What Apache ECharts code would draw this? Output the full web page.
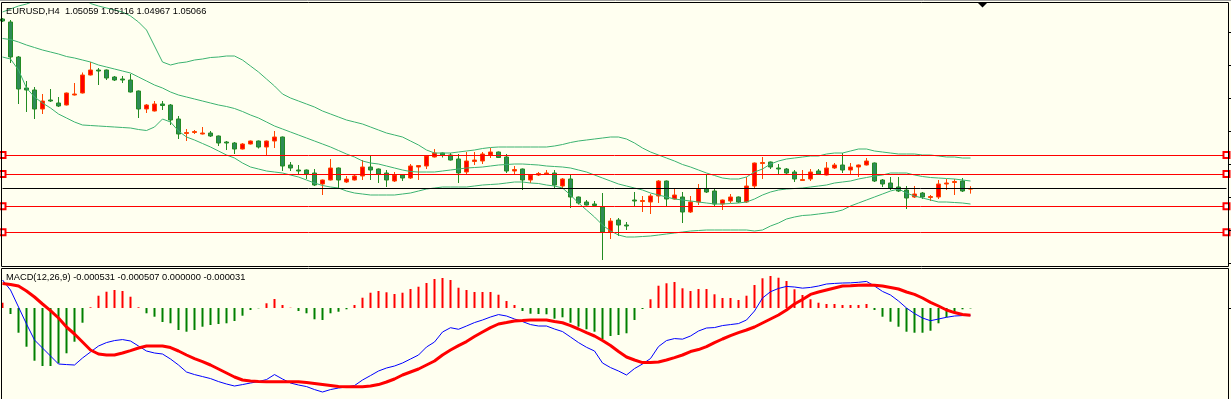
<!DOCTYPE html>
<html>
<head>
<meta charset="utf-8">
<title>EURUSD,H4</title>
<script src="https://cdn.jsdelivr.net/npm/echarts@6/dist/echarts.min.js"></script>
<style>
html, body { margin: 0; padding: 0; background: #fffff0; }
#chart { width: 1231px; height: 399px; }
</style>
</head>
<body>
<div id="chart"></div>
<script>
// H4 bars, oldest first (the first one is cut by the left edge)
const opens = [1.0846, 1.0840, 1.0770, 1.0708, 1.0704, 1.0666, 1.0684, 1.0678, 1.0674, 1.0694,
  1.0698, 1.0734, 1.0744, 1.0744, 1.0730, 1.0726, 1.0724, 1.0702, 1.0666, 1.0662,
  1.0676, 1.0674, 1.0646, 1.0617, 1.0619, 1.0616, 1.0618, 1.0612, 1.0600, 1.0598,
  1.0586, 1.0596, 1.0602, 1.0590, 1.0602, 1.0610, 1.0554, 1.0544, 1.0544, 1.0538,
  1.0516, 1.0524, 1.0548, 1.0520, 1.0524, 1.0532, 1.0550, 1.0546, 1.0538, 1.0522,
  1.0534, 1.0528, 1.0550, 1.0552, 1.0570, 1.0578, 1.0574, 1.0566, 1.0540, 1.0561,
  1.0562, 1.0574, 1.0580, 1.0570, 1.0542, 1.0546, 1.0524, 1.0534, 1.0536, 1.0538,
  1.0512, 1.0526, 1.0490, 1.0480, 1.0476, 1.0470, 1.0420, 1.0444, 1.0434, 1.0484,
  1.0481, 1.0480, 1.0492, 1.0522, 1.0486, 1.0490, 1.0460, 1.0480, 1.0506, 1.0502,
  1.0476, 1.0482, 1.0490, 1.0480, 1.0512, 1.0557, 1.0560, 1.0548, 1.0546, 1.0540,
  1.0523, 1.0526, 1.0542, 1.0534, 1.0548, 1.0554, 1.0544, 1.0550, 1.0554, 1.0558,
  1.0524, 1.0518, 1.0510, 1.0504, 1.0490, 1.0498, 1.0489, 1.0490, 1.0516, 1.0519,
  1.0522, 1.05059]
const closes = [1.0842, 1.0770, 1.0706, 1.0704, 1.0666, 1.0682, 1.0682, 1.0672, 1.0698, 1.0696,
  1.0734, 1.0744, 1.0742, 1.0728, 1.0724, 1.0724, 1.0700, 1.0666, 1.0674, 1.0676,
  1.0673, 1.0644, 1.0616, 1.0619, 1.0621, 1.0618, 1.0612, 1.0598, 1.0598, 1.0586,
  1.0596, 1.0602, 1.0590, 1.0602, 1.0610, 1.0552, 1.0548, 1.0542, 1.0536, 1.0514,
  1.0524, 1.0548, 1.0524, 1.0526, 1.0532, 1.0550, 1.0544, 1.0536, 1.0524, 1.0534,
  1.0528, 1.0552, 1.0553, 1.0572, 1.0578, 1.0574, 1.0564, 1.0538, 1.0562, 1.0564,
  1.0576, 1.0580, 1.0569, 1.0542, 1.0545, 1.0524, 1.0534, 1.0537, 1.0538, 1.0514,
  1.0526, 1.0490, 1.0478, 1.0474, 1.0473, 1.0420, 1.0442, 1.0434, 1.0432, 1.0482,
  1.0483, 1.0492, 1.0522, 1.0486, 1.0494, 1.0460, 1.0480, 1.0506, 1.0500, 1.0476,
  1.0484, 1.0490, 1.0480, 1.0512, 1.0558, 1.0559, 1.0550, 1.0546, 1.0538, 1.0526,
  1.0525, 1.0540, 1.0536, 1.0548, 1.0554, 1.0544, 1.0550, 1.0554, 1.0562, 1.0522,
  1.0516, 1.0508, 1.0502, 1.0488, 1.0496, 1.0490, 1.0491, 1.0516, 1.0518, 1.0521,
  1.0502, 1.05066]
const lows = [1.0840, 1.0758, 1.0676, 1.0660, 1.0646, 1.0656, 1.0680, 1.0670, 1.0673, 1.0693,
  1.0697, 1.0733, 1.0714, 1.0724, 1.0722, 1.0718, 1.0699, 1.0648, 1.0658, 1.0661,
  1.0664, 1.0634, 1.0606, 1.0602, 1.0616, 1.0615, 1.0610, 1.0592, 1.0584, 1.0576,
  1.0585, 1.0595, 1.0587, 1.0574, 1.0588, 1.0542, 1.0542, 1.0536, 1.0526, 1.0512,
  1.0494, 1.0523, 1.0508, 1.0518, 1.0523, 1.0524, 1.0524, 1.0518, 1.0510, 1.0520,
  1.0522, 1.0526, 1.0524, 1.0546, 1.0569, 1.0569, 1.0563, 1.0518, 1.0534, 1.0554,
  1.0556, 1.0568, 1.0568, 1.0538, 1.0534, 1.0504, 1.0518, 1.0532, 1.0534, 1.0508,
  1.0508, 1.0468, 1.0475, 1.0473, 1.0470, 1.0364, 1.0406, 1.0412, 1.0424, 1.0470,
  1.0460, 1.0456, 1.0478, 1.0472, 1.0485, 1.0438, 1.0458, 1.0474, 1.0498, 1.0470,
  1.0464, 1.0478, 1.0478, 1.0478, 1.0508, 1.0526, 1.0546, 1.0536, 1.0536, 1.0520,
  1.0522, 1.0522, 1.0534, 1.0533, 1.0546, 1.0538, 1.0536, 1.0530, 1.0553, 1.0520,
  1.0510, 1.0504, 1.0500, 1.0466, 1.0488, 1.0486, 1.0482, 1.0486, 1.0504, 1.0494,
  1.0500, 1.04967]
const highs = [1.0848, 1.0844, 1.0772, 1.0722, 1.0710, 1.0696, 1.0706, 1.0690, 1.0699, 1.0718,
  1.0739, 1.0760, 1.0748, 1.0745, 1.0732, 1.0732, 1.0736, 1.0703, 1.0676, 1.0682,
  1.0682, 1.0676, 1.0652, 1.0626, 1.0624, 1.0630, 1.0622, 1.0613, 1.0602, 1.0600,
  1.0598, 1.0603, 1.0603, 1.0603, 1.0622, 1.0611, 1.0560, 1.0554, 1.0545, 1.0546,
  1.0525, 1.0566, 1.0549, 1.0532, 1.0534, 1.0564, 1.0572, 1.0547, 1.0544, 1.0540,
  1.0535, 1.0556, 1.0554, 1.0573, 1.0586, 1.0579, 1.0578, 1.0576, 1.0580, 1.0580,
  1.0580, 1.0588, 1.0581, 1.0576, 1.0552, 1.0547, 1.0535, 1.0540, 1.0544, 1.0544,
  1.0528, 1.0536, 1.0491, 1.0484, 1.0482, 1.0498, 1.0448, 1.0448, 1.0440, 1.0500,
  1.0492, 1.0496, 1.0524, 1.0523, 1.0508, 1.0500, 1.0492, 1.0516, 1.0536, 1.0508,
  1.0485, 1.0496, 1.0491, 1.0530, 1.0559, 1.0570, 1.0561, 1.0556, 1.0548, 1.0544,
  1.0544, 1.0546, 1.0546, 1.0560, 1.0558, 1.0578, 1.0558, 1.0555, 1.0568, 1.0559,
  1.0526, 1.0530, 1.0530, 1.0512, 1.0512, 1.0500, 1.0494, 1.0524, 1.0526, 1.0526,
  1.0528, 1.05116]

// Bollinger bands
const bandUpper = [1.0860, 1.0866, 1.0872, 1.0876, 1.0882, 1.0890, 1.0896, 1.0900, 1.0900, 1.0896,
  1.0888, 1.0877, 1.0872, 1.0868, 1.0864, 1.0860, 1.0852, 1.0840, 1.0824, 1.0792,
  1.0760, 1.0754, 1.0758, 1.0760, 1.0764, 1.0766, 1.0769, 1.0770, 1.0772, 1.0772,
  1.0764, 1.0752, 1.0740, 1.0726, 1.0712, 1.0696, 1.0688, 1.0682, 1.0676, 1.0670,
  1.0662, 1.0656, 1.0650, 1.0644, 1.0640, 1.0636, 1.0630, 1.0624, 1.0618, 1.0614,
  1.0610, 1.0602, 1.0594, 1.0584, 1.0578, 1.0578, 1.0578, 1.0580, 1.0582, 1.0584,
  1.0587, 1.0589, 1.0590, 1.0590, 1.0590, 1.0590, 1.0590, 1.0590, 1.0590, 1.0592,
  1.0595, 1.0599, 1.0602, 1.0604, 1.0606, 1.0608, 1.0610, 1.0610, 1.0606, 1.0598,
  1.0588, 1.0580, 1.0574, 1.0568, 1.0562, 1.0555, 1.0550, 1.0544, 1.0538, 1.0533,
  1.0528, 1.0526, 1.0526, 1.0530, 1.0540, 1.0546, 1.0556, 1.0562, 1.0566, 1.0568,
  1.0570, 1.0572, 1.0572, 1.0576, 1.0578, 1.0578, 1.0582, 1.0586, 1.0586, 1.0582,
  1.0580, 1.0578, 1.0576, 1.0576, 1.0576, 1.0574, 1.0574, 1.0572, 1.0570, 1.0570,
  1.0568, 1.0568]
const bandMiddle = [1.0807, 1.0805, 1.0800, 1.0794, 1.0789, 1.0784, 1.0780, 1.0776, 1.0771, 1.0768,
  1.0764, 1.0760, 1.0754, 1.0750, 1.0746, 1.0742, 1.0738, 1.0730, 1.0722, 1.0714,
  1.0708, 1.0700, 1.0694, 1.0690, 1.0686, 1.0682, 1.0678, 1.0674, 1.0671, 1.0667,
  1.0661, 1.0654, 1.0648, 1.0640, 1.0632, 1.0626, 1.0620, 1.0614, 1.0608, 1.0602,
  1.0596, 1.0590, 1.0583, 1.0576, 1.0570, 1.0562, 1.0558, 1.0556, 1.0552, 1.0548,
  1.0544, 1.0541, 1.0540, 1.0540, 1.0540, 1.0542, 1.0544, 1.0546, 1.0548, 1.0549,
  1.0550, 1.0552, 1.0554, 1.0555, 1.0556, 1.0556, 1.0555, 1.0554, 1.0552, 1.0551,
  1.0550, 1.0548, 1.0544, 1.0540, 1.0534, 1.0528, 1.0522, 1.0516, 1.0512, 1.0508,
  1.0504, 1.0498, 1.0494, 1.0490, 1.0486, 1.0484, 1.0482, 1.0480, 1.0478, 1.0476,
  1.0476, 1.0477, 1.0478, 1.0480, 1.0486, 1.0494, 1.0500, 1.0504, 1.0506, 1.0507,
  1.0508, 1.0510, 1.0512, 1.0514, 1.0518, 1.0520, 1.0522, 1.0526, 1.0529, 1.0532,
  1.0534, 1.0538, 1.0538, 1.0538, 1.0534, 1.0531, 1.0529, 1.0528, 1.0527, 1.0526,
  1.0524, 1.0522]
const bandLower = [1.0770, 1.0766, 1.0744, 1.0708, 1.0690, 1.0678, 1.0668, 1.0656, 1.0648, 1.0640,
  1.0634, 1.0633, 1.0632, 1.0631, 1.0630, 1.0629, 1.0628, 1.0625, 1.0623, 1.0630,
  1.0646, 1.0640, 1.0622, 1.0610, 1.0604, 1.0597, 1.0590, 1.0582, 1.0574, 1.0568,
  1.0558, 1.0550, 1.0546, 1.0542, 1.0540, 1.0538, 1.0534, 1.0530, 1.0524, 1.0518,
  1.0513, 1.0510, 1.0508, 1.0502, 1.0498, 1.0496, 1.0494, 1.0494, 1.0494, 1.0494,
  1.0496, 1.0498, 1.0502, 1.0506, 1.0508, 1.0510, 1.0510, 1.0510, 1.0510, 1.0512,
  1.0514, 1.0515, 1.0516, 1.0518, 1.0520, 1.0520, 1.0518, 1.0517, 1.0514, 1.0512,
  1.0508, 1.0494, 1.0478, 1.0464, 1.0450, 1.0434, 1.0422, 1.0414, 1.0410, 1.0410,
  1.0411, 1.0412, 1.0414, 1.0416, 1.0418, 1.0420, 1.0422, 1.0423, 1.0424, 1.0424,
  1.0424, 1.0424, 1.0424, 1.0424, 1.0422, 1.0424, 1.0432, 1.0438, 1.0446, 1.0450,
  1.0453, 1.0454, 1.0456, 1.0458, 1.0460, 1.0464, 1.0472, 1.0478, 1.0484, 1.0490,
  1.0496, 1.0502, 1.0506, 1.0498, 1.0492, 1.0488, 1.0484, 1.0480, 1.0480, 1.0479,
  1.0478, 1.0476]

// horizontal levels and the bid line
const levels = [1.0574, 1.0536, 1.04714, 1.04194]
const bid = 1.05066

// MACD(12,26,9)
const macdHist = [0.00037, -0.00042, -0.00173, -0.00271, -0.00369, -0.00406, -0.00406, -0.00387, -0.00317, -0.00236,
  -0.00103, 0.00005, 0.00086, 0.00114, 0.00126, 0.00119, 0.00079, 0.00005, -0.00037, -0.00061,
  -0.00098, -0.00107, -0.00154, -0.00166, -0.00154, -0.00131, -0.00119, -0.00112, -0.00107, -0.00091,
  -0.00054, -0.00014, -0.00002, 0.00033, 0.00063, 0.00021, 0.00002, -0.00021, -0.00037, -0.00079,
  -0.00084, -0.00037, -0.00026, -0.00009, 0.00021, 0.00072, 0.00107, 0.00119, 0.00110, 0.00098,
  0.00107, 0.00133, 0.00149, 0.00175, 0.00203, 0.00210, 0.00196, 0.00142, 0.00126, 0.00112,
  0.00112, 0.00112, 0.00093, 0.00049, 0.00021, -0.00021, -0.00040, -0.00042, -0.00044, -0.00075,
  -0.00065, -0.00103, -0.00131, -0.00149, -0.00166, -0.00217, -0.00196, -0.00189, -0.00177, -0.00084,
  -0.00007, 0.00061, 0.00156, 0.00173, 0.00182, 0.00138, 0.00119, 0.00133, 0.00133, 0.00096,
  0.00070, 0.00070, 0.00056, 0.00086, 0.00161, 0.00208, 0.00224, 0.00212, 0.00189, 0.00131,
  0.00091, 0.00061, 0.00037, 0.00028, 0.00028, 0.00021, 0.00021, 0.00021, 0.00028, -0.00014,
  -0.00061, -0.00096, -0.00131, -0.00166, -0.00173, -0.00173, -0.00159, -0.00107, -0.00065, -0.00026,
  -0.00009, -0.00003]
const macdMain = [0.00196, 0.00126, 0.00007, -0.00112, -0.00224, -0.00280, -0.00336, -0.00392, -0.00396, -0.00399,
  -0.00350, -0.00308, -0.00266, -0.00242, -0.00228, -0.00221, -0.00231, -0.00266, -0.00301, -0.00315,
  -0.00322, -0.00357, -0.00399, -0.00448, -0.00466, -0.00480, -0.00494, -0.00515, -0.00532, -0.00546,
  -0.00536, -0.00525, -0.00515, -0.00501, -0.00466, -0.00497, -0.00525, -0.00539, -0.00550, -0.00571,
  -0.00588, -0.00571, -0.00560, -0.00553, -0.00543, -0.00504, -0.00473, -0.00441, -0.00420, -0.00406,
  -0.00385, -0.00357, -0.00329, -0.00273, -0.00238, -0.00168, -0.00138, -0.00149, -0.00126, -0.00102,
  -0.00084, -0.00063, -0.00046, -0.00056, -0.00077, -0.00095, -0.00116, -0.00126, -0.00126, -0.00147,
  -0.00165, -0.00203, -0.00242, -0.00275, -0.00301, -0.00385, -0.00417, -0.00441, -0.00469, -0.00424,
  -0.00392, -0.00354, -0.00270, -0.00228, -0.00214, -0.00218, -0.00196, -0.00161, -0.00140, -0.00137,
  -0.00123, -0.00116, -0.00109, -0.00084, -0.00021, 0.00070, 0.00114, 0.00137, 0.00151, 0.00147,
  0.00139, 0.00144, 0.00154, 0.00168, 0.00172, 0.00175, 0.00176, 0.00180, 0.00186, 0.00154,
  0.00116, 0.00091, 0.00049, 0.00000, -0.00039, -0.00070, -0.00089, -0.00077, -0.00065, -0.00056,
  -0.00053, -0.000531]
const macdSignal = [0.00172, 0.00165, 0.00154, 0.00119, 0.00077, 0.00028, -0.00018, -0.00070, -0.00133, -0.00182,
  -0.00238, -0.00294, -0.00322, -0.00329, -0.00329, -0.00315, -0.00298, -0.00280, -0.00266, -0.00266,
  -0.00266, -0.00277, -0.00301, -0.00329, -0.00354, -0.00375, -0.00399, -0.00427, -0.00455, -0.00483,
  -0.00504, -0.00511, -0.00515, -0.00516, -0.00516, -0.00516, -0.00516, -0.00516, -0.00522, -0.00529,
  -0.00536, -0.00543, -0.00550, -0.00551, -0.00551, -0.00551, -0.00546, -0.00536, -0.00518, -0.00497,
  -0.00469, -0.00448, -0.00427, -0.00399, -0.00371, -0.00329, -0.00294, -0.00263, -0.00235, -0.00200,
  -0.00168, -0.00137, -0.00112, -0.00102, -0.00091, -0.00088, -0.00084, -0.00084, -0.00084, -0.00095,
  -0.00103, -0.00123, -0.00147, -0.00172, -0.00196, -0.00228, -0.00263, -0.00305, -0.00343, -0.00364,
  -0.00382, -0.00382, -0.00378, -0.00364, -0.00347, -0.00329, -0.00305, -0.00291, -0.00270, -0.00242,
  -0.00217, -0.00193, -0.00172, -0.00154, -0.00133, -0.00105, -0.00077, -0.00049, -0.00014, 0.00028,
  0.00060, 0.00095, 0.00112, 0.00126, 0.00140, 0.00154, 0.00156, 0.00159, 0.00161, 0.00159,
  0.00154, 0.00144, 0.00133, 0.00112, 0.00095, 0.00070, 0.00039, 0.00014, -0.00014, -0.00032,
  -0.00046, -0.000507]

const priceTitle = 'EURUSD,H4  1.05059 1.05116 1.04967 1.05066'
const macdTitle = 'MACD(12,26,9) -0.000531 -0.000507 0.000000 -0.000031'

// 154 bar slots, the empty ones on the right are the chart shift
const slots = Array.from({ length: 154 }, (_, k) => String(k))
const candles = opens.map((o, k) => [o, closes[k], lows[k], highs[k]])

const bandColor = '#3cb371'
const font = '9.3px "Liberation Sans", Arial, sans-serif'

let myChart = echarts.init(document.getElementById('chart'))

let option = {
  animation: false,
  backgroundColor: '#fffff0',
  grid: [
    { left: 2.5, right: 4.5, top: 3, height: 263 },
    { left: 2.5, right: 4.5, top: 268, height: 131 }
  ],
  xAxis: [
    { type: 'category', gridIndex: 0, data: slots, boundaryGap: false, show: false },
    { type: 'category', gridIndex: 1, data: slots, boundaryGap: false, show: false }
  ],
  yAxis: [
    { type: 'value', gridIndex: 0, min: 1.0352, max: 1.0878, show: false, splitLine: { show: false } },
    { type: 'value', gridIndex: 1, min: -0.00637, max: 0.0028, show: false, splitLine: { show: false } }
  ],
  series: [
    {
      name: 'EURUSD',
      type: 'candlestick',
      xAxisIndex: 0,
      yAxisIndex: 0,
      data: candles,
      barWidth: 4,
      itemStyle: {
        color: '#ff0000',
        color0: '#2e8b57',
        borderColor: '#ff4500',
        borderColor0: '#228b22',
        borderWidth: 1
      },
      markLine: {
        silent: true,
        precision: 5,
        symbol: 'none',
        label: { show: false },
        lineStyle: { color: '#000000', width: 1, type: 'solid' },
        data: [{ yAxis: bid }]
      },
      z: 2
    },
    {
      name: 'Upper',
      type: 'line',
      data: bandUpper,
      symbol: 'none',
      lineStyle: { color: bandColor, width: 1 },
      z: 3
    },
    {
      name: 'Middle',
      type: 'line',
      data: bandMiddle,
      symbol: 'none',
      lineStyle: { color: bandColor, width: 1 },
      z: 3,
      markLine: {
        silent: true,
        precision: 5,
        symbol: ['emptyRect', 'emptyRect'],
        symbolSize: 6,
        label: { show: false },
        lineStyle: { color: '#ff0000', width: 1, type: 'solid' },
        data: levels.map(v => ({ yAxis: v }))
      }
    },
    {
      name: 'Lower',
      type: 'line',
      data: bandLower,
      symbol: 'none',
      lineStyle: { color: bandColor, width: 1 },
      z: 3
    },
    {
      name: 'Histogram',
      type: 'bar',
      xAxisIndex: 1,
      yAxisIndex: 1,
      data: macdHist,
      barWidth: 2,
      itemStyle: {
        color: p => (p.value >= 0 ? '#ff0000' : '#008000')
      }
    },
    {
      name: 'MACD',
      type: 'line',
      xAxisIndex: 1,
      yAxisIndex: 1,
      data: macdMain,
      symbol: 'none',
      lineStyle: { color: '#0000ff', width: 1 },
      z: 3
    },
    {
      name: 'Signal',
      type: 'line',
      xAxisIndex: 1,
      yAxisIndex: 1,
      data: macdSignal,
      symbol: 'none',
      lineStyle: { color: '#ff0000', width: 3 },
      z: 4
    }
  ],
  graphic: [
    { type: 'line', z: 100, shape: { x1: 0, y1: 0.5, x2: 1231, y2: 0.5 }, style: { stroke: '#a0a0a0', lineWidth: 1 } },
    { type: 'rect', z: 100, shape: { x: 1.5, y: 2.5, width: 1227, height: 264 }, style: { fill: 'none', stroke: '#000000', lineWidth: 1 } },
    { type: 'rect', z: 100, shape: { x: 1.5, y: 268.5, width: 1227, height: 132 }, style: { fill: 'none', stroke: '#000000', lineWidth: 1 } },
    { type: 'polygon', z: 100, shape: { points: [[978, 3], [987, 3], [982.5, 7.5]] }, style: { fill: '#000000' } },
    ...[32.5, 65.5, 98.5, 131.5, 164.5, 197.5, 230.5, 263.5, 308.5].map(y => ({
      type: 'line', z: 100, shape: { x1: 1229, y1: y, x2: 1231, y2: y }, style: { stroke: '#000000', lineWidth: 1 }
    })),
    { type: 'text', z: 100, style: { x: 6, y: 11.7, text: priceTitle, font: font, fill: '#000000', verticalAlign: 'middle' } },
    { type: 'text', z: 100, style: { x: 6, y: 277.4, text: macdTitle, font: font, fill: '#000000', verticalAlign: 'middle' } }
  ]
}

myChart.setOption(option)
</script>
</body>
</html>
